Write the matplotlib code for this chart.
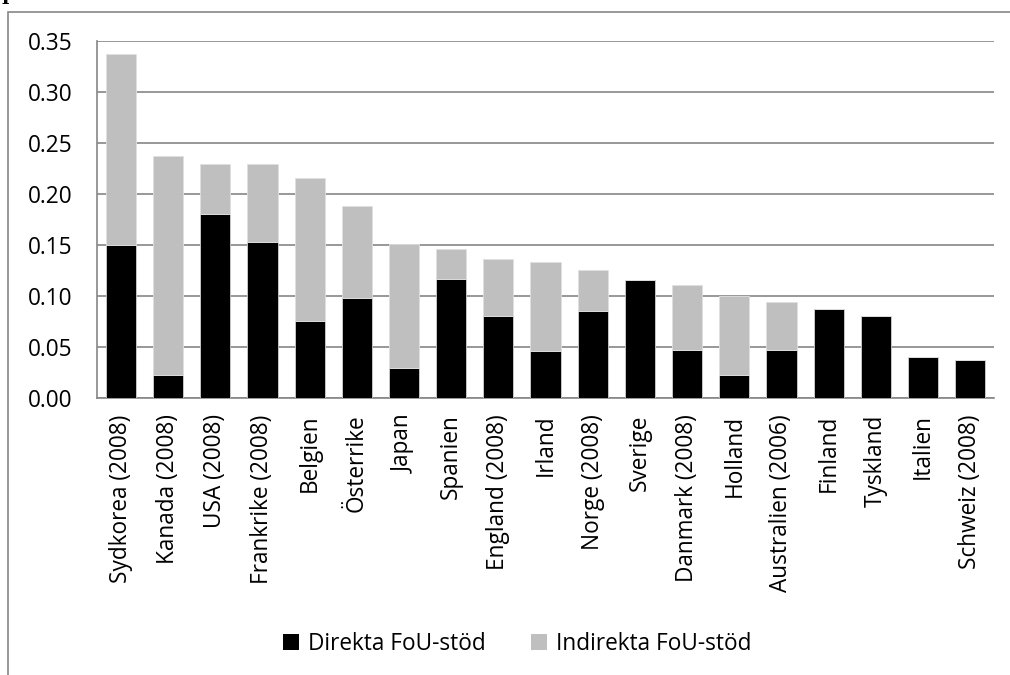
import matplotlib

matplotlib.use("Agg")
import matplotlib.pyplot as plt
import numpy as np
from matplotlib.patches import Rectangle, Patch

countries = [
    "Sydkorea (2008)", "Kanada (2008)", "USA (2008)", "Frankrike (2008)",
    "Belgien", "Österrike", "Japan", "Spanien", "England (2008)", "Irland",
    "Norge (2008)", "Sverige", "Danmark (2008)", "Holland",
    "Australien (2006)", "Finland", "Tyskland", "Italien", "Schweiz (2008)",
]
direkt = [0.150, 0.022, 0.180, 0.153, 0.075, 0.098, 0.029, 0.116, 0.080,
          0.046, 0.085, 0.115, 0.047, 0.022, 0.047, 0.087, 0.080, 0.040, 0.037]
totalt = [0.337, 0.237, 0.229, 0.229, 0.216, 0.188, 0.151, 0.146, 0.136,
          0.133, 0.125, 0.115, 0.111, 0.100, 0.094, 0.087, 0.080, 0.040, 0.037]
indirekt = [t - d for t, d in zip(totalt, direkt)]

yticks = [0.00, 0.05, 0.10, 0.15, 0.20, 0.25, 0.30, 0.35]

GRID = "#868686"
FS = 16.3
plt.rcParams["font.family"] = ["Open Sans", "DejaVu Sans"]

fig = plt.figure(figsize=(10.1, 6.75), dpi=100)
ax = fig.add_axes([0.0963, 0.4108, 0.8877, 0.5285])

x = np.arange(len(countries))
ax.bar(x, direkt, width=0.64, color="#000000", edgecolor="#d0d0d0",
       linewidth=0.6, zorder=3, label="Direkta FoU-stöd")
ax.bar(x, indirekt, bottom=direkt, width=0.64, color="#bfbfbf",
       edgecolor="#e0e0e0", linewidth=0.6, zorder=3,
       label="Indirekta FoU-stöd")

ax.set_xlim(-0.5, len(countries) - 0.5)
ax.set_ylim(0, 0.35)
ax.set_yticks(yticks)
ax.set_yticklabels([f"{v:.2f}" for v in yticks])
ax.set_xticks(x)
ax.set_xticklabels(countries, rotation=90)
ax.tick_params(axis="y", length=0, pad=18, labelsize=FS)
ax.tick_params(axis="x", length=0, pad=12, labelsize=FS)

ax.yaxis.grid(True, color=GRID, linewidth=1.2, zorder=0)
ax.set_axisbelow(True)
for side in ("top", "right"):
    ax.spines[side].set_visible(False)
for side in ("left", "bottom"):
    ax.spines[side].set_color(GRID)
    ax.spines[side].set_linewidth(1.2)

handles = [Patch(facecolor="#000000", edgecolor="none"),
           Patch(facecolor="#bfbfbf", edgecolor="none")]
fig.legend(handles, ["Direkta FoU-stöd", "Indirekta FoU-stöd"],
           loc="center", bbox_to_anchor=(0.512, 0.046), ncol=2,
           frameon=False, fontsize=FS, handlelength=0.7, handleheight=0.7,
           handletextpad=0.4, columnspacing=2.0)

# outer chart-area frame, cut by the image edges
fig.add_artist(Rectangle((8 / 1010, -0.2), 1.2, 1.2 - 12 / 675,
                         transform=fig.transFigure, fill=False,
                         edgecolor="#888888", linewidth=1.2))
# descender of the text line above the chart
fig.text(2 / 1010, 1.0, "p", va="baseline", ha="left", fontsize=14,
         fontweight="bold", family="DejaVu Serif")

fig.savefig("out.png", dpi=100)
